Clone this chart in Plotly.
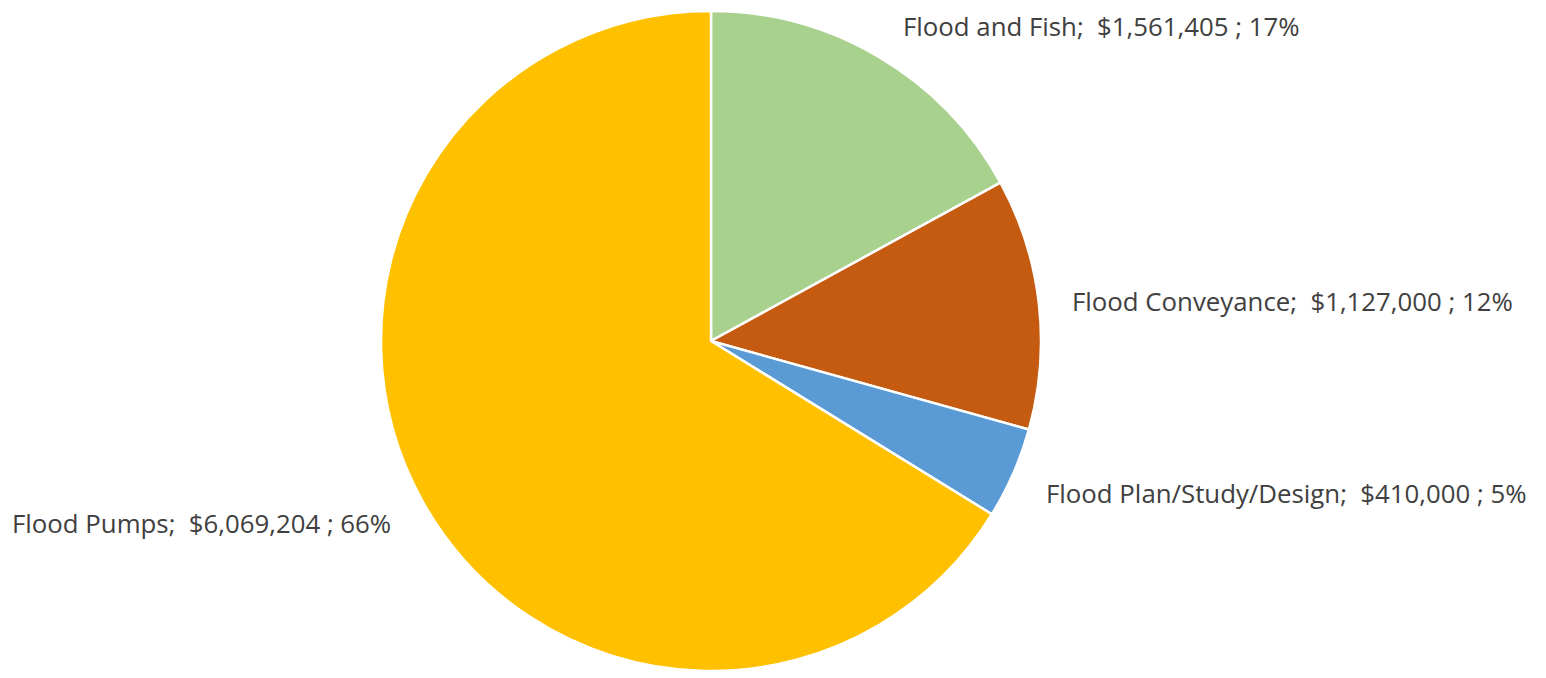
import plotly.graph_objects as go

categories = ["Flood and Fish", "Flood Conveyance", "Flood Plan/Study/Design", "Flood Pumps"]
values = [1561405, 1127000, 410000, 6069204]
percent_labels = ["17%", "12%", "5%", "66%"]
colors = ["#A9D18E", "#C55A11", "#5B9BD5", "#FFC000"]

W, H = 1546, 678
OFF = 8  # page body margin
# label left-edge x and center y in pixels (reference coords)
label_pos = [(902, 26), (1071, 301), (1045, 493), (11, 523)]

fig = go.Figure(go.Pie(
    labels=categories,
    values=values,
    sort=False,
    direction="clockwise",
    rotation=0,
    textinfo="none",
    hoverinfo="label+value+percent",
    marker=dict(colors=colors, line=dict(color="white", width=2.5)),
    domain=dict(x=[(381 - OFF) / W, (1041 - OFF) / W],
                y=[1 - (671 - OFF) / H, 1 - (11 - OFF) / H]),
    showlegend=False,
))

for cat, val, pct, (px, py) in zip(categories, values, percent_labels, label_pos):
    fig.add_annotation(
        x=(px - OFF) / W, y=1 - (py - OFF) / H, xref="paper", yref="paper",
        xanchor="left", yanchor="middle", showarrow=False, borderpad=0,
        text=f"{cat};  ${val:,} ; {pct}",
        font=dict(family="Open Sans", size=25.8, color="#404040"),
    )

fig.update_layout(
    width=W, height=H,
    margin=dict(l=0, r=0, t=0, b=0),
    paper_bgcolor="white", plot_bgcolor="white",
)
fig.write_html("out.html")
